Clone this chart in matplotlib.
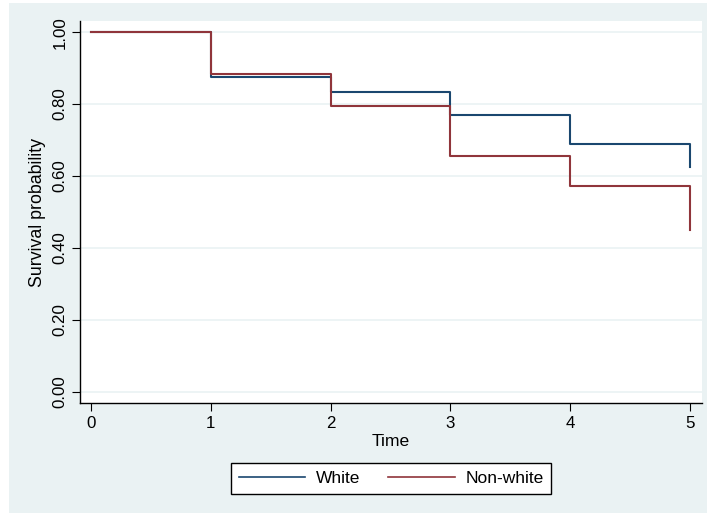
import matplotlib
matplotlib.use("Agg")
import matplotlib.pyplot as plt
from matplotlib.patches import Rectangle

# Kaplan-Meier survival estimates by group
times = [0, 1, 2, 3, 4, 5]
surv_white = [1.000, 0.875, 0.833, 0.771, 0.688, 0.625]
surv_nonwhite = [1.000, 0.885, 0.794, 0.655, 0.571, 0.449]
groups = ["White", "Non-white"]
colors = ["#1a476f", "#90353b"]

x_ticks = [0, 1, 2, 3, 4, 5]
y_ticks = [0.0, 0.2, 0.4, 0.6, 0.8, 1.0]

plt.rcParams["font.family"] = ["Liberation Sans", "DejaVu Sans"]

W, H = 707, 515
fig = plt.figure(figsize=(W / 100, H / 100), dpi=100)
fig.patch.set_facecolor("white")
# graph region background (Stata s2color style)
fig.patches.append(Rectangle((9 / W, 2 / H), (W - 9) / W, (H - 5) / H,
                             transform=fig.transFigure, facecolor="#eaf2f3",
                             edgecolor="none", zorder=-5))

ax = fig.add_axes([80 / W, (H - 403.3) / H, (702 - 80) / W, (403.3 - 21) / H])
ax.set_facecolor("white")

for s, c, lab in zip([surv_white, surv_nonwhite], colors, groups):
    ax.step(times, s, where="post", color=c, lw=1.5, label=lab, zorder=3)

ax.set_xlim(-0.092, 5.1)
ax.set_ylim(-0.032, 1.031)
ax.set_xticks(x_ticks)
ax.set_yticks(y_ticks)
ax.set_yticklabels([f"{v:.2f}" for v in y_ticks], rotation=90, va="center")
ax.tick_params(axis="both", direction="out", length=6, width=0.8,
               labelsize=12.2, color="black")
ax.tick_params(axis="x", pad=3)
ax.tick_params(axis="y", pad=3)
ax.grid(axis="y", color="#eaf2f3", lw=1.2, zorder=1)
for sp in ["top", "right"]:
    ax.spines[sp].set_visible(False)
for sp in ["left", "bottom"]:
    ax.spines[sp].set_linewidth(1.0)

ax.set_xlabel("Time", fontsize=12.6, labelpad=2)
ax.set_ylabel("Survival probability", fontsize=12.8, labelpad=5)

leg = ax.legend(loc="center", bbox_to_anchor=(0.5, -0.197), ncol=2,
                frameon=True, fancybox=False, fontsize=12.5,
                handlelength=3.85, columnspacing=1.6, handletextpad=0.6,
                borderpad=0.45, framealpha=1)
leg.get_frame().set_edgecolor("black")
leg.get_frame().set_facecolor("white")
leg.get_frame().set_linewidth(1.0)
for line in leg.get_lines():
    line.set_linewidth(1.2)

fig.savefig("out.png", dpi=100)
